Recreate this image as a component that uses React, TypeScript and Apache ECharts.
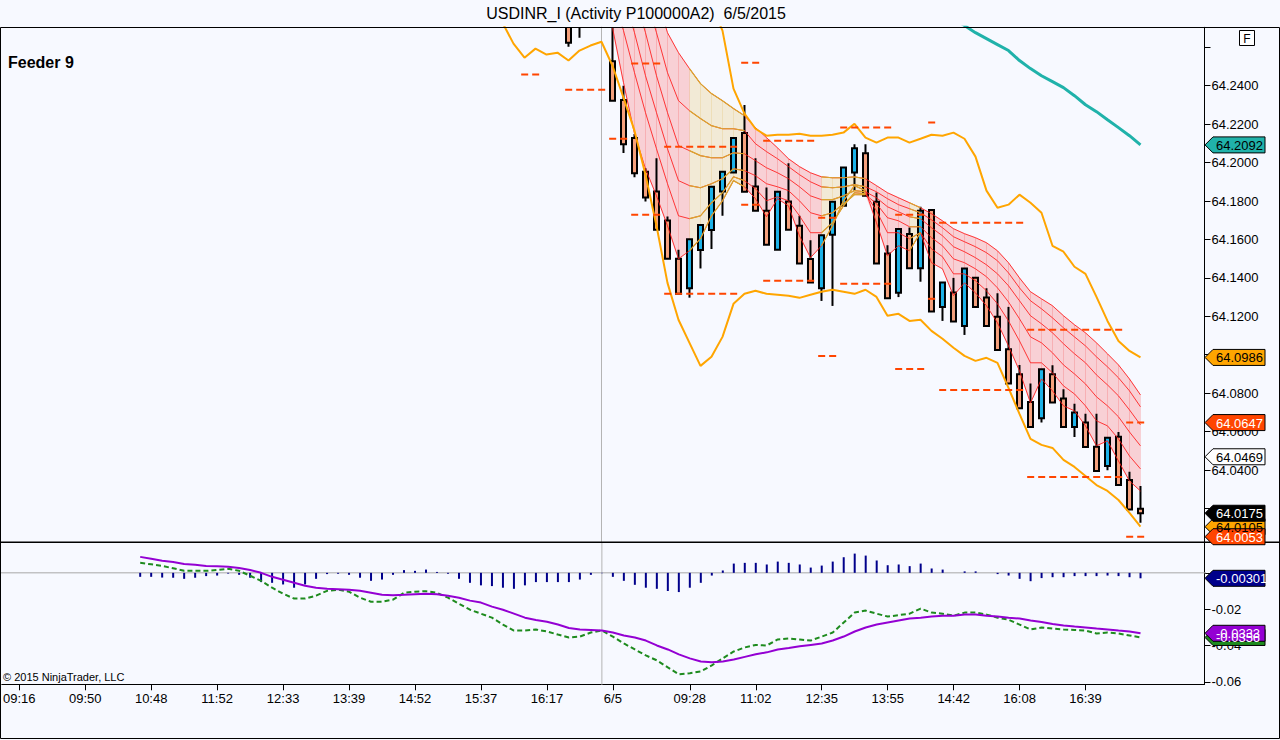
import React, { useEffect, useRef } from "react";
import * as echarts from "echarts";

// ---------------- texts ----------------
const chartTitle = "USDINR_I (Activity P100000A2)  6/5/2015";
const panelName = "Feeder 9";
const copyrightText = "\u00A9 2015 NinjaTrader, LLC";

// ---------------- time axis (bar numbers) ----------------
const timeTickBars = [0, 6, 12, 18, 24, 30, 36, 42, 48, 54, 61, 67, 73, 79, 85, 91, 97];
const timeTickLabels = ["09:16", "09:50", "10:48", "11:52", "12:33", "13:39", "14:52", "15:37", "16:17", "6/5", "09:28", "11:02", "12:35", "13:55", "14:42", "16:08", "16:39"];
const sessionBreakBar = 53;

// ---------------- price axis ----------------
const priceTicks = [64.02, 64.04, 64.06, 64.08, 64.1, 64.12, 64.14, 64.16, 64.18, 64.2, 64.22, 64.24, 64.26];
// tick labels hidden under value tags / the F box in the reference
const hiddenPriceLabels = [64.02, 64.1, 64.26];
const macdTicks = [0, -0.02, -0.04, -0.06];
const hiddenMacdLabels = [0];

// ---------------- candles [open, close, low, high] ----------------
const prevDayBars = [50, 51];
const prevDayOhlc = [
  [64.278, 64.2624, 64.2603, 64.285],
  [64.28, 64.286, 64.265, 64.29],
];
const firstBar = 54;
const ohlc = [
  [64.2527, 64.2322, 64.2322, 64.275],
  [64.2326, 64.2096, 64.205, 64.24],
  [64.2128, 64.1945, 64.1923, 64.2149],
  [64.1952, 64.1818, 64.1797, 64.1971],
  [64.185, 64.165, 64.165, 64.2023],
  [64.1698, 64.15, 64.15, 64.1719],
  [64.15, 64.1318, 64.1318, 64.1546],
  [64.1346, 64.1601, 64.1297, 64.1601],
  [64.1545, 64.1675, 64.1449, 64.1675],
  [64.1649, 64.1874, 64.155, 64.1874],
  [64.185, 64.1952, 64.1723, 64.1952],
  [64.1949, 64.2128, 64.1949, 64.2128],
  [64.2154, 64.1848, 64.1848, 64.23],
  [64.1876, 64.1749, 64.1749, 64.2023],
  [64.1749, 64.1572, 64.1572, 64.187],
  [64.1546, 64.1848, 64.1546, 64.1848],
  [64.1797, 64.165, 64.165, 64.1997],
  [64.1671, 64.1475, 64.1475, 64.1723],
  [64.1498, 64.1376, 64.1376, 64.1596],
  [64.1346, 64.1622, 64.128, 64.1622],
  [64.1624, 64.1796, 64.1254, 64.1796],
  [64.1775, 64.1975, 64.1775, 64.1975],
  [64.1949, 64.2074, 64.1853, 64.2096],
  [64.2049, 64.1827, 64.1827, 64.2096],
  [64.1796, 64.1475, 64.1475, 64.1844],
  [64.1527, 64.1294, 64.1294, 64.157],
  [64.1323, 64.1654, 64.13, 64.1654],
  [64.1628, 64.145, 64.145, 64.1662],
  [64.145, 64.1749, 64.138, 64.177],
  [64.1753, 64.1225, 64.1225, 64.1753],
  [64.1249, 64.1376, 64.1176, 64.1376],
  [64.1324, 64.1173, 64.1173, 64.14],
  [64.115, 64.1449, 64.1103, 64.1449],
  [64.14, 64.1249, 64.1249, 64.14],
  [64.1298, 64.115, 64.115, 64.1346],
  [64.1198, 64.1025, 64.1025, 64.132],
  [64.1028, 64.085, 64.085, 64.1249],
  [64.0899, 64.0722, 64.0722, 64.0947],
  [64.0754, 64.0624, 64.0624, 64.085],
  [64.0669, 64.0925, 64.0647, 64.0925],
  [64.0899, 64.0751, 64.0751, 64.0945],
  [64.0772, 64.0624, 64.0624, 64.082],
  [64.0624, 64.0699, 64.0572, 64.0745],
  [64.0647, 64.052, 64.052, 64.0693],
  [64.0521, 64.0395, 64.0395, 64.0693],
  [64.0421, 64.0568, 64.0399, 64.0568],
  [64.0573, 64.0322, 64.0322, 64.0598],
  [64.0348, 64.0195, 64.0195, 64.0391],
  [64.0199, 64.0175, 64.0126, 64.0317],
];

// ---------------- moving-average ribbon (fast -> slow), bars 54..102 ----------------
const ribbonStart = 54;
const ribbonFast = [64.2702, 64.2416, 64.215, 64.1968, 64.1827, 64.1671, 64.1499, 64.1541, 64.1604, 64.1723, 64.1801, 64.1906, 64.1874, 64.1812, 64.1718, 64.1812, 64.1775, 64.1619, 64.1505, 64.1567, 64.1671, 64.1801, 64.188, 64.1854, 64.1687, 64.1515, 64.1567, 64.1541, 64.1635, 64.1479, 64.1447, 64.1307, 64.1374, 64.1322, 64.1255, 64.1166, 64.1046, 64.0916, 64.0749, 64.0874, 64.0812, 64.0734, 64.0708, 64.063, 64.0526, 64.0552, 64.0447, 64.0343, 64.0291];
const ribbon2 = [64.2869, 64.2687, 64.2468, 64.226, 64.2072, 64.189, 64.1723, 64.1708, 64.1723, 64.1791, 64.1843, 64.1926, 64.1906, 64.1864, 64.1801, 64.1822, 64.1801, 64.1723, 64.1635, 64.1635, 64.1687, 64.1775, 64.1843, 64.1838, 64.1749, 64.1635, 64.1635, 64.1604, 64.1635, 64.1551, 64.151, 64.1421, 64.1421, 64.1385, 64.1333, 64.1265, 64.1176, 64.1072, 64.0958, 64.0958, 64.0906, 64.0838, 64.0796, 64.0734, 64.0656, 64.063, 64.0562, 64.0473, 64.0406];
const ribbon3 = [64.3025, 64.2869, 64.2676, 64.2452, 64.226, 64.2072, 64.1906, 64.188, 64.1869, 64.189, 64.1916, 64.1968, 64.1958, 64.1932, 64.189, 64.1874, 64.1854, 64.1801, 64.1739, 64.1723, 64.1739, 64.1786, 64.1833, 64.1833, 64.1786, 64.1713, 64.1697, 64.1666, 64.1666, 64.1609, 64.1567, 64.1499, 64.1479, 64.1447, 64.1406, 64.1348, 64.1275, 64.1187, 64.1093, 64.1062, 64.101, 64.0947, 64.09, 64.0848, 64.0781, 64.0734, 64.0677, 64.0598, 64.0526];
const ribbon4 = [64.3156, 64.3025, 64.2869, 64.2676, 64.2452, 64.226, 64.2088, 64.2062, 64.2036, 64.2025, 64.2025, 64.2051, 64.2046, 64.201, 64.1973, 64.1947, 64.1916, 64.1874, 64.1827, 64.1807, 64.1807, 64.1827, 64.1854, 64.1848, 64.1817, 64.177, 64.1744, 64.1718, 64.1708, 64.1661, 64.1619, 64.1562, 64.1536, 64.1505, 64.1468, 64.1421, 64.1359, 64.1281, 64.1203, 64.1161, 64.1114, 64.1057, 64.1005, 64.0958, 64.0895, 64.0843, 64.0786, 64.0713, 64.0635];
const ribbon5 = [64.326, 64.3156, 64.3025, 64.2869, 64.2676, 64.2468, 64.2322, 64.227, 64.2229, 64.2192, 64.2176, 64.2176, 64.2166, 64.2098, 64.2057, 64.202, 64.1979, 64.1937, 64.19, 64.1874, 64.1869, 64.1874, 64.1885, 64.1874, 64.1848, 64.1812, 64.1781, 64.176, 64.1739, 64.1702, 64.1661, 64.1614, 64.1588, 64.1562, 64.1531, 64.1489, 64.1426, 64.1348, 64.1281, 64.1239, 64.1192, 64.114, 64.1093, 64.1046, 64.0989, 64.0937, 64.088, 64.0812, 64.0729];
const ribbonSlow = [64.3364, 64.326, 64.3156, 64.3025, 64.2869, 64.2676, 64.2572, 64.2489, 64.2411, 64.2359, 64.2322, 64.2281, 64.2244, 64.2182, 64.213, 64.2077, 64.202, 64.1979, 64.1947, 64.1926, 64.1921, 64.1921, 64.1926, 64.1916, 64.188, 64.1843, 64.1817, 64.1791, 64.1765, 64.1734, 64.1697, 64.1656, 64.163, 64.1609, 64.1583, 64.1541, 64.1479, 64.14, 64.1328, 64.1291, 64.1255, 64.1203, 64.1156, 64.1114, 64.1062, 64.1005, 64.0947, 64.0874, 64.0791];
// bar ranges where the ribbon turns gold
const goldZones = [[61, 66], [73, 77], [81, 82]];

// ---------------- bands ----------------
const lowerBandStart = 43;
const lowerBand = [64.2791, 64.2728, 64.2619, 64.2546, 64.2593, 64.2562, 64.2572, 64.2531, 64.2583, 64.2609, 64.2629, 64.2504, 64.2338, 64.2166, 64.1937, 64.1671, 64.1374, 64.1182, 64.1062, 64.0942, 64.0989, 64.1093, 64.1265, 64.1317, 64.1333, 64.1317, 64.1312, 64.1307, 64.1296, 64.1312, 64.1328, 64.1338, 64.1328, 64.1317, 64.1338, 64.1301, 64.1203, 64.1213, 64.1176, 64.1182, 64.1124, 64.1083, 64.1036, 64.0994, 64.0968, 64.0984, 64.0958, 64.0828, 64.0692, 64.0562, 64.0531, 64.0515, 64.0453, 64.0416, 64.0369, 64.0322, 64.0291, 64.0244, 64.0177, 64.0105];
const upperBandStart = 63;
const upperBand = [64.2817, 64.2687, 64.2385, 64.2255, 64.2176, 64.214, 64.2145, 64.2145, 64.215, 64.214, 64.214, 64.2145, 64.2156, 64.2202, 64.213, 64.2104, 64.213, 64.213, 64.2104, 64.2124, 64.2145, 64.214, 64.2156, 64.2124, 64.2031, 64.1854, 64.1765, 64.1781, 64.1833, 64.1791, 64.1739, 64.1567, 64.1536, 64.1458, 64.1421, 64.1301, 64.1176, 64.1072, 64.102, 64.0986];
const tealStart = 85;
const tealLine = [64.2749, 64.2713, 64.2676, 64.2645, 64.2614, 64.2583, 64.2531, 64.2489, 64.2452, 64.2421, 64.239, 64.2348, 64.2301, 64.2265, 64.2223, 64.2182, 64.214, 64.2092];

// ---------------- pivot levels [first bar, last bar, price] ----------------
const pivotLevels = [
  [46, 47, 64.2458], [50, 53, 64.2379], [54, 55, 64.2124],
  [56, 58, 64.2515], [56, 58, 64.1728],
  [59, 65, 64.2083], [59, 65, 64.1317],
  [66, 67, 64.252], [66, 67, 64.1781],
  [68, 72, 64.2114], [68, 72, 64.1385],
  [73, 74, 64.1713], [73, 74, 64.0994],
  [75, 79, 64.2182], [75, 79, 64.1369],
  [80, 82, 64.1728], [80, 82, 64.0926],
  [83, 83, 64.2208], [83, 83, 64.1291],
  [84, 91, 64.1687], [84, 91, 64.0817],
  [92, 100, 64.113], [92, 100, 64.0364],
  [101, 102, 64.0647], [101, 102, 64.0053],
];

// ---------------- MACD panel, bars 11..102 ----------------
const macdStart = 11;
const macdAvg = [0.0088, 0.0077, 0.0066, 0.006, 0.0049, 0.0044, 0.0038, 0.0036, 0.0033, 0.0027,
  0.0016, 0.0, -0.0022, -0.0038, -0.0055, -0.0071, -0.0082, -0.0088, -0.009, -0.0093,
  -0.0099, -0.011, -0.0121, -0.0123, -0.0121, -0.0118, -0.0115, -0.0118, -0.0126, -0.0137,
  -0.0153, -0.0164, -0.0186, -0.0203, -0.0225, -0.0247, -0.026, -0.0269, -0.0285, -0.0304,
  -0.0312, -0.0315, -0.0318, -0.0329, -0.0345, -0.0356, -0.0373, -0.04, -0.0422, -0.0449,
  -0.0471, -0.0488, -0.0493, -0.0488, -0.0477, -0.0463, -0.0449, -0.0438, -0.0422, -0.0414,
  -0.0405, -0.0397, -0.0389, -0.0373, -0.0351, -0.0323, -0.0301, -0.0285, -0.0274, -0.0263,
  -0.0252, -0.0247, -0.0241, -0.0236, -0.0236, -0.023, -0.023, -0.0236, -0.0241, -0.0247,
  -0.0252, -0.0263, -0.0271, -0.0282, -0.029, -0.0296, -0.0301, -0.0307, -0.0312, -0.0318,
  -0.0323, -0.0333];
const macdLine = [0.0055, 0.0047, 0.0038, 0.0025, 0.0011, 0.0011, 0.0011, 0.0016, 0.0022, 0.0011,
  -0.0016, -0.0044, -0.0082, -0.0115, -0.0142, -0.0142, -0.0126, -0.0099, -0.0093, -0.0104,
  -0.0137, -0.0159, -0.0159, -0.0148, -0.011, -0.0104, -0.0101, -0.011, -0.0137, -0.017,
  -0.0203, -0.0225, -0.0247, -0.0285, -0.0318, -0.0318, -0.0312, -0.0323, -0.034, -0.0356,
  -0.0351, -0.0329, -0.0318, -0.0351, -0.0389, -0.0422, -0.0455, -0.0482, -0.0521, -0.0559,
  -0.0553, -0.0543, -0.051, -0.0471, -0.0433, -0.0411, -0.0397, -0.04, -0.0367, -0.0362,
  -0.0367, -0.0373, -0.0351, -0.0329, -0.0274, -0.0219, -0.0208, -0.0225, -0.0241, -0.0233,
  -0.0225, -0.0197, -0.0219, -0.0225, -0.0236, -0.0219, -0.0219, -0.023, -0.0247, -0.0258,
  -0.0285, -0.0312, -0.0301, -0.0307, -0.0312, -0.0315, -0.0318, -0.0334, -0.0329, -0.0334,
  -0.0345, -0.0356];
const macdDiff = [-0.0022, -0.0022, -0.0026, -0.0027, -0.0033, -0.0027, -0.0018, -0.0015, -0.0004, -0.0011,
  -0.0027, -0.0051, -0.0055, -0.0064, -0.0082, -0.0064, -0.0033, -0.0007, -0.0005, -0.0011,
  -0.0027, -0.0044, -0.0037, -0.0011, 0.0015, 0.0011, 0.0018, 0.0005, -0.0005, -0.0033,
  -0.0055, -0.0069, -0.0073, -0.0082, -0.0088, -0.0069, -0.0051, -0.0051, -0.0051, -0.0051,
  -0.0037, -0.0011, -0.0002, -0.0022, -0.0044, -0.0066, -0.0082, -0.0088, -0.01, -0.0106,
  -0.0082, -0.0055, -0.0015, 0.0013, 0.0051, 0.0055, 0.0055, 0.0046, 0.0062, 0.0055,
  0.0046, 0.0029, 0.004, 0.0062, 0.0086, 0.0106, 0.0095, 0.0068, 0.0042, 0.0046,
  0.0037, 0.0051, 0.0024, 0.0018, 0.0, 0.0008, 0.0008, 0.0, -0.0007, -0.0015,
  -0.0033, -0.0046, -0.0029, -0.0024, -0.0024, -0.0018, -0.0018, -0.0018, -0.0015, -0.0018,
  -0.0024, -0.003];

// ---------------- right-axis value tags ----------------
const priceTagValues = [64.2092, 64.0986, 64.0469, 64.0105, 64.0175, 64.0647, 64.0053];
const macdTagValues = [-0.00301, -0.0356, -0.0333];

// ---------------- styles ----------------
const BG = "#F7F9FF";
const FONT = '"Liberation Sans", Arial, sans-serif';
const UP = "#1CB2E8";
const DOWN = "#F4A07C";
const RED = "#FF1A1A";
const GOLD = "#D9A62E";
const priceTagStyles = [
  { bg: "#20B2AA", fg: "#000000" },
  { bg: "#FFA500", fg: "#000000" },
  { bg: "#FFFFFF", fg: "#000000" },
  { bg: "#FFA500", fg: "#000000" },
  { bg: "#000000", fg: "#FFFFFF" },
  { bg: "#FF4500", fg: "#FFFFFF" },
  { bg: "#FF4500", fg: "#FFFFFF" },
];
const macdTagStyles = [
  { bg: "#00008B", fg: "#FFFFFF" },
  { bg: "#1E8B1E", fg: "#FFFFFF" },
  { bg: "#9400D3", fg: "#FFFFFF" },
];

// axis ranges
const X_MIN = -1.59;
const X_MAX = 107.82;
const Y_MIN = 64.0027;
const Y_MAX = 64.2704;
const M_MIN = -0.0614;
const M_MAX = 0.0166;

const inGold = (bar: number) => goldZones.some(([a, b]) => bar >= a && bar <= b);
const isHidden = (v: number, list: number[]) => list.some((h) => Math.abs(v - h) < 1e-7);

function clipRect(params: any) {
  const cs = params.coordSys;
  return { type: "rect", shape: { x: cs.x, y: cs.y, width: cs.width, height: cs.height } };
}

function buildOption() {
  const series: any[] = [];
  const line = (data: any[], color: string, width: number, extra: any = {}) => ({
    type: "line",
    xAxisIndex: 0,
    yAxisIndex: 0,
    data,
    symbol: "none",
    showSymbol: false,
    silent: true,
    clip: true,
    lineStyle: { color, width, ...(extra.lineStyle || {}) },
    z: extra.z ?? 2,
    connectNulls: false,
  });

  // session break
  series.push(line([[sessionBreakBar, 63.5], [sessionBreakBar, 64.8]], "#B4B4B4", 1, { z: 1 }));

  const ribbons = [ribbonFast, ribbon2, ribbon3, ribbon4, ribbon5, ribbonSlow];

  // ribbon shading, segment by segment (gold inside gold zones)
  series.push({
    type: "custom",
    xAxisIndex: 0,
    yAxisIndex: 0,
    clip: true,
    silent: true,
    z: 1,
    data: [[ribbonStart, ribbonFast[0]]],
    renderItem: (params: any, api: any) => {
      const up: number[][] = [];
      const lo: number[][] = [];
      for (let i = 0; i < ribbonFast.length; i++) {
        const vals = ribbons.map((r) => r[i]);
        up.push(api.coord([ribbonStart + i, Math.max(...vals)]));
        lo.push(api.coord([ribbonStart + i, Math.min(...vals)]));
      }
      const children: any[] = [];
      for (let i = 0; i < up.length - 1; i++) {
        const gold = inGold(ribbonStart + i) && inGold(ribbonStart + i + 1);
        const col = gold ? "rgba(226,176,50,0.2)" : "rgba(255,30,30,0.19)";
        children.push({
          type: "polygon",
          shape: { points: [up[i], up[i + 1], lo[i + 1], lo[i]] },
          style: { fill: col, stroke: col, lineWidth: 0.5 },
        });
      }
      return { type: "group", clipPath: clipRect(params), children };
    },
  });

  // candles (custom drawn so they are clipped to the price panel)
  const candleData = [
    ...prevDayBars.map((b, i) => [b, ...prevDayOhlc[i]]),
    ...ohlc.map((v, i) => [firstBar + i, ...v]),
  ];
  series.push({
    type: "custom",
    xAxisIndex: 0,
    yAxisIndex: 0,
    clip: true,
    silent: true,
    z: 2,
    data: candleData,
    encode: { x: 0, y: [1, 2, 3, 4] },
    renderItem: (params: any, api: any) => {
      const x = api.value(0);
      const o = api.value(1);
      const c = api.value(2);
      const l = api.value(3);
      const h = api.value(4);
      const pO = api.coord([x, o]);
      const pC = api.coord([x, c]);
      const pL = api.coord([x, l]);
      const pH = api.coord([x, h]);
      const w = 5;
      const top = Math.min(pO[1], pC[1]);
      const bot = Math.max(pO[1], pC[1]);
      return {
        type: "group",
        clipPath: clipRect(params),
        children: [
          { type: "line", shape: { x1: pH[0], y1: pH[1], x2: pL[0], y2: pL[1] }, style: { stroke: "#000", lineWidth: 2 } },
          {
            type: "rect",
            shape: { x: pO[0] - w / 2, y: top, width: w, height: Math.max(bot - top, 1) },
            style: { fill: c >= o ? UP : DOWN, stroke: "#000", lineWidth: 2 },
          },
        ],
      };
    },
  });

  // ribbon lines
  ribbons.forEach((r) => {
    series.push(line(r.map((v, i) => [ribbonStart + i, v]), RED, 1, { z: 3, lineStyle: { opacity: 0.85 } }));
  });
  ribbons.forEach((r) => {
    series.push(
      line(
        r.map((v, i) => [ribbonStart + i, inGold(ribbonStart + i) ? v : "-"]),
        GOLD,
        1.2,
        { z: 3 }
      )
    );
  });

  // bands & teal
  series.push(line(lowerBand.map((v, i) => [lowerBandStart + i, v]), "#FFA500", 2, { z: 4 }));
  series.push(line(upperBand.map((v, i) => [upperBandStart + i, v]), "#FFA500", 2, { z: 4 }));
  series.push(line(tealLine.map((v, i) => [tealStart + i, v]), "#20B2AA", 3, { z: 4 }));

  // pivots
  pivotLevels.forEach(([a, b, v]) => {
    series.push(
      line([[a - 0.3, v], [b + 0.45, v]], "#FF4500", 2, { z: 5, lineStyle: { type: [7, 4] } })
    );
  });

  // ---- lower panel ----
  const lower = (data: any[], color: string, width: number, extra: any = {}) => ({
    ...line(data, color, width, extra),
    xAxisIndex: 1,
    yAxisIndex: 1,
  });
  series.push(lower([[X_MIN - 2, 0], [X_MAX + 2, 0]], "#A8A8A8", 1, { z: 1 }));
  series.push(lower([[sessionBreakBar, -1], [sessionBreakBar, 1]], "#B4B4B4", 1, { z: 1 }));
  series.push({
    type: "bar",
    xAxisIndex: 1,
    yAxisIndex: 1,
    data: macdDiff.map((v, i) => [macdStart + i, v]),
    barWidth: 2,
    silent: true,
    itemStyle: { color: "#00008B" },
    z: 2,
  });
  series.push(lower(macdLine.map((v, i) => [macdStart + i, v]), "#1E8B1E", 2, { z: 3, lineStyle: { type: [5, 3] } }));
  series.push(lower(macdAvg.map((v, i) => [macdStart + i, v]), "#9400D3", 2, { z: 3 }));

  return {
    animation: false,
    backgroundColor: BG,
    grid: [
      { left: 1, top: 27.3, right: 75.5, height: 514.4, show: false },
      { left: 1, top: 542.7, right: 75.5, height: 141.6, show: false },
    ],
    xAxis: [
      { type: "value", gridIndex: 0, min: X_MIN, max: X_MAX, show: false },
      {
        type: "value",
        gridIndex: 1,
        min: X_MIN,
        max: X_MAX,
        position: "bottom",
        axisLine: { show: true, onZero: false, lineStyle: { color: "#000", width: 1 } },
        axisTick: { show: true, length: 6, customValues: timeTickBars, lineStyle: { color: "#000" } },
        axisLabel: {
          show: true,
          customValues: timeTickBars,
          formatter: (v: number) => {
            const i = timeTickBars.indexOf(Math.round(v));
            return i >= 0 ? timeTickLabels[i] : "";
          },
          color: "#000",
          fontSize: 13,
          fontFamily: FONT,
          margin: 8,
        },
        splitLine: { show: false },
      },
    ],
    yAxis: [
      {
        type: "value",
        gridIndex: 0,
        position: "right",
        min: Y_MIN,
        max: Y_MAX,
        axisLine: { show: true, onZero: false, lineStyle: { color: "#000" } },
        axisTick: { show: true, length: 6, customValues: priceTicks, lineStyle: { color: "#000" } },
        axisLabel: {
          show: true,
          customValues: priceTicks,
          formatter: (v: number) => (isHidden(v, hiddenPriceLabels) ? "" : v.toFixed(4)),
          color: "#000",
          fontSize: 13,
          fontFamily: FONT,
          margin: 7,
        },
        splitLine: { show: false },
      },
      {
        type: "value",
        gridIndex: 1,
        position: "right",
        min: M_MIN,
        max: M_MAX,
        axisLine: { show: true, onZero: false, lineStyle: { color: "#000" } },
        axisTick: { show: true, length: 6, customValues: macdTicks, lineStyle: { color: "#000" } },
        axisLabel: {
          show: true,
          customValues: macdTicks,
          formatter: (v: number) => (isHidden(v, hiddenMacdLabels) ? "" : v.toFixed(2)),
          color: "#000",
          fontSize: 13,
          fontFamily: FONT,
          margin: 7,
        },
        splitLine: { show: false },
      },
    ],
    series,
  };
}

function tag(y: number, text: string, bg: string, fg: string) {
  return {
    type: "group",
    z: 100,
    children: [
      {
        type: "polygon",
        z: 100,
        shape: { points: [[1205, y], [1213, y - 8], [1265, y - 8], [1265, y + 8], [1213, y + 8]] },
        style: { fill: bg, stroke: "#000", lineWidth: 1 },
      },
      {
        type: "text",
        z: 101,
        x: 1216,
        y: y + 0.5,
        style: {
          text,
          fill: fg,
          font: `13px ${FONT}`,
          align: "left",
          verticalAlign: "middle",
          textAlign: "left",
          textVerticalAlign: "middle",
        },
      },
    ],
  };
}

export default function App() {
  const ref = useRef<HTMLDivElement>(null);
  useEffect(() => {
    const el = ref.current;
    if (!el) return;
    const chart = echarts.init(el, null, { renderer: "svg" });
    chart.setOption(buildOption());

    const graphics: any[] = [
      {
        type: "text",
        x: 636,
        y: 13,
        style: { text: chartTitle, fill: "#000", font: `16px ${FONT}`, align: "center", verticalAlign: "middle", textAlign: "center", textVerticalAlign: "middle" },
      },
      { type: "rect", z: 90, shape: { x: 0.5, y: 27.5, width: 1279, height: 711 }, style: { fill: "none", stroke: "#000", lineWidth: 1 } },
      { type: "line", z: 90, shape: { x1: 0, y1: 542.2, x2: 1280, y2: 542.2 }, style: { stroke: "#000", lineWidth: 1.5 } },
      {
        type: "text",
        x: 8,
        y: 62,
        style: { text: panelName, fill: "#000", font: `bold 16px ${FONT}`, align: "left", verticalAlign: "middle", textAlign: "left", textVerticalAlign: "middle" },
      },
      {
        type: "text",
        x: 3,
        y: 677,
        style: { text: copyrightText, fill: "#000", font: `11px ${FONT}`, align: "left", verticalAlign: "middle", textAlign: "left", textVerticalAlign: "middle" },
      },
      { type: "rect", z: 90, shape: { x: 1239.5, y: 30.5, width: 15, height: 15 }, style: { fill: "#FFFFFF", stroke: "#000", lineWidth: 1 } },
      {
        type: "text",
        z: 91,
        x: 1247,
        y: 38.5,
        style: { text: "F", fill: "#000", font: `12px ${FONT}`, align: "center", verticalAlign: "middle", textAlign: "center", textVerticalAlign: "middle" },
      },
    ];
    priceTagValues.forEach((v, i) => {
      const y = chart.convertToPixel({ yAxisIndex: 0 }, v) as number;
      graphics.push(tag(y, v.toFixed(4), priceTagStyles[i].bg, priceTagStyles[i].fg));
    });
    macdTagValues.forEach((v, i) => {
      const y = chart.convertToPixel({ yAxisIndex: 1 }, v) as number;
      graphics.push(tag(y, String(v), macdTagStyles[i].bg, macdTagStyles[i].fg));
    });
    chart.setOption({ graphic: graphics });

    return () => {
      chart.dispose();
    };
  }, []);
  return (
    <div
      ref={ref}
      style={{ position: "fixed", left: 0, top: 0, width: 1280, height: 740, background: BG }}
    />
  );
}
